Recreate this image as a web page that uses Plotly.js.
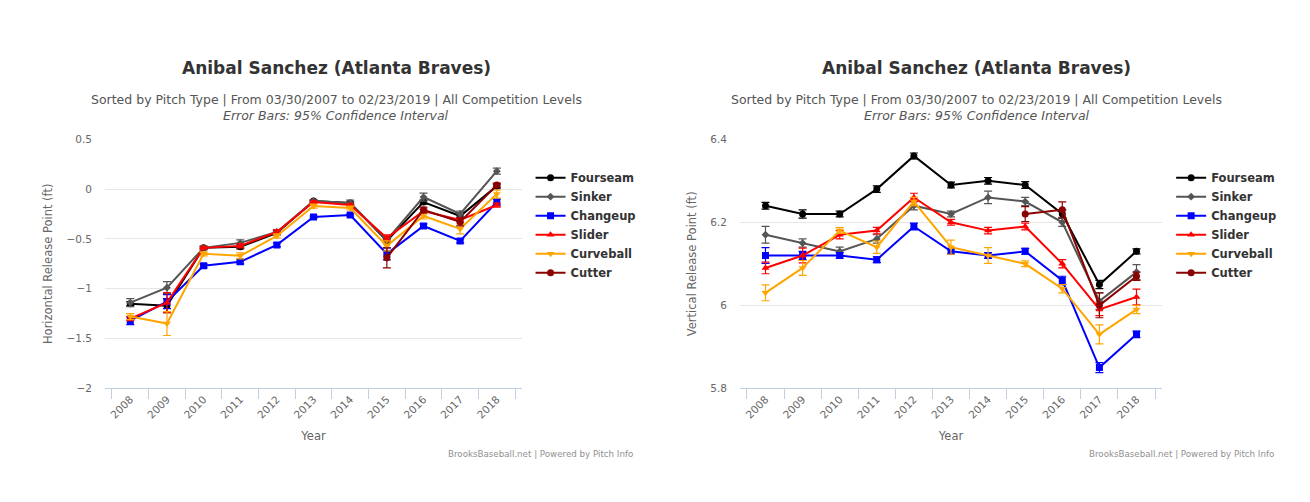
<!DOCTYPE html>
<html>
<head>
<meta charset="utf-8">
<script src="https://cdn.plot.ly/plotly-3.0.1.min.js"></script>
<style>
  html, body { margin: 0; padding: 0; background: #fff; }
  #chart { width: 1310px; height: 502px; }
</style>
</head>
<body>
<div id="chart"></div>
<script>
// years on the x axis
var years = ['2008', '2009', '2010', '2011', '2012', '2013', '2014', '2015', '2016', '2017', '2018'];

var pitchNames = ['Fourseam', 'Sinker', 'Changeup', 'Slider', 'Curveball', 'Cutter'];

// horizontal release point (ft)
var fourseamH = [-1.15, -1.17, -0.59, -0.58, -0.44, -0.12, -0.14, -0.52, -0.13, -0.27, 0.03];
var fourseamHErr = [0.02, 0.07, 0.01, 0.02, 0.02, 0.01, 0.01, 0.02, 0.02, 0.02, 0.02];
var sinkerH = [-1.14, -0.99, -0.59, -0.54, -0.43, -0.12, -0.14, -0.51, -0.08, -0.25, 0.18];
var sinkerHErr = [0.04, 0.06, 0.02, 0.03, 0.02, 0.01, 0.03, 0.02, 0.04, 0.03, 0.03];
var changeupH = [-1.32, -1.13, -0.77, -0.73, -0.56, -0.28, -0.26, -0.65, -0.37, -0.52, -0.13];
var changeupHErr = [0.04, 0.07, 0.02, 0.02, 0.02, 0.01, 0.01, 0.06, 0.02, 0.02, 0.03];
var sliderH = [-1.30, -1.14, -0.59, -0.57, -0.43, -0.13, -0.16, -0.49, -0.22, -0.31, -0.16];
var sliderHErr = [0.02, 0.10, 0.01, 0.02, 0.02, 0.01, 0.01, 0.03, 0.02, 0.02, 0.02];
var curveballH = [-1.28, -1.35, -0.65, -0.67, -0.47, -0.17, -0.19, -0.57, -0.27, -0.40, -0.05];
var curveballHErr = [0.03, 0.12, 0.02, 0.03, 0.02, 0.02, 0.02, 0.05, 0.03, 0.05, 0.04];
var cutterH = [null, null, null, null, null, null, null, -0.69, -0.21, -0.33, 0.04];
var cutterHErr = [null, null, null, null, null, null, null, 0.10, 0.03, 0.04, 0.02];

// vertical release point (ft)
var fourseamV = [6.24, 6.22, 6.22, 6.28, 6.36, 6.29, 6.30, 6.29, 6.22, 6.05, 6.13];
var fourseamVErr = [0.008, 0.01, 0.007, 0.008, 0.007, 0.007, 0.008, 0.008, 0.01, 0.01, 0.006];
var sinkerV = [6.17, 6.15, 6.13, 6.16, 6.24, 6.22, 6.26, 6.25, 6.20, 6.01, 6.08];
var sinkerVErr = [0.02, 0.01, 0.01, 0.01, 0.01, 0.007, 0.015, 0.01, 0.01, 0.02, 0.018];
var changeupV = [6.12, 6.12, 6.12, 6.11, 6.19, 6.13, 6.12, 6.13, 6.06, 5.85, 5.93];
var changeupVErr = [0.019, 0.01, 0.007, 0.007, 0.008, 0.006, 0.007, 0.007, 0.01, 0.012, 0.008];
var sliderV = [6.09, 6.12, 6.17, 6.18, 6.26, 6.20, 6.18, 6.19, 6.10, 5.99, 6.02];
var sliderVErr = [0.014, 0.018, 0.01, 0.008, 0.01, 0.007, 0.008, 0.008, 0.01, 0.015, 0.019];
var curveballV = [6.03, 6.09, 6.18, 6.14, 6.25, 6.14, 6.12, 6.10, 6.04, 5.93, 5.99];
var curveballVErr = [0.019, 0.018, 0.007, 0.015, 0.01, 0.017, 0.019, 0.007, 0.01, 0.023, 0.01];
var cutterV = [null, null, null, null, null, null, null, 6.22, 6.23, 6.00, 6.07];
var cutterVErr = [null, null, null, null, null, null, null, 0.018, 0.019, 0.03, 0.01];

var colors = ['#000000', '#555555', '#0000ff', '#ff0000', '#ffa500', '#8b0000'];
var symbols = ['circle', 'diamond', 'square', 'triangle-up', 'triangle-down', 'circle'];
var sizes = [7, 6, 7, 7, 7, 7];

var horiz = [[fourseamH, fourseamHErr], [sinkerH, sinkerHErr], [changeupH, changeupHErr],
             [sliderH, sliderHErr], [curveballH, curveballHErr], [cutterH, cutterHErr]];
var vert = [[fourseamV, fourseamVErr], [sinkerV, sinkerVErr], [changeupV, changeupVErr],
            [sliderV, sliderVErr], [curveballV, curveballVErr], [cutterV, cutterVErr]];

function makeTrace(i, vals, errs, xa, ya, leg) {
  return {
    x: years,
    y: vals,
    name: pitchNames[i],
    type: 'scatter',
    mode: 'lines+markers',
    xaxis: xa,
    yaxis: ya,
    legend: leg,
    line: { color: colors[i], width: 2 },
    marker: { color: colors[i], symbol: symbols[i], size: sizes[i] },
    error_y: { type: 'data', array: errs, visible: true, color: colors[i], thickness: 1.2, width: 4 },
    hoverinfo: 'x+y+name'
  };
}

var data = [];
for (var i = 0; i < pitchNames.length; i++) {
  data.push(makeTrace(i, horiz[i][0], horiz[i][1], 'x', 'y', 'legend'));
}
for (var j = 0; j < pitchNames.length; j++) {
  data.push(makeTrace(j, vert[j][0], vert[j][1], 'x2', 'y2', 'legend2'));
}

var font = 'DejaVu Sans, Verdana, sans-serif';
var yDom = [0.2265, 0.7225];

function xAxis(dom) {
  return {
    domain: dom,
    type: 'category',
    tickson: 'boundaries',
    ticks: 'outside',
    ticklen: 10,
    tickcolor: '#C0D0E0',
    showline: true,
    linecolor: '#C0D0E0',
    linewidth: 1,
    showgrid: false,
    zeroline: false,
    tickangle: -45,
    tickfont: { family: font, size: 10.5, color: '#666666' },
    title: { text: 'Year', font: { family: font, size: 11.5, color: '#666666' }, standoff: 12 },
    fixedrange: true
  };
}

function yAxis(dom, range, dtick, label, anchor) {
  return {
    domain: dom,
    anchor: anchor,
    range: range,
    dtick: dtick,
    showgrid: true,
    gridcolor: '#e6e6e6',
    zeroline: false,
    showline: false,
    ticks: '',
    ticklabelstandoff: 12,
    tickfont: { family: font, size: 10.5, color: '#666666' },
    title: { text: label, font: { family: font, size: 11.5, color: '#666666' }, standoff: 11 },
    fixedrange: true
  };
}

function legendAt(x) {
  return {
    x: x, y: 0.675, xanchor: 'left', yanchor: 'top',
    font: { family: font, size: 11.5, color: '#333333', weight: 'bold' },
    itemwidth: 30,
    tracegroupgap: 0,
    bgcolor: 'rgba(0,0,0,0)'
  };
}

var titleTxt = 'Anibal Sanchez (Atlanta Braves)';
var subTxt = 'Sorted by Pitch Type | From 03/30/2007 to 02/23/2019 | All Competition Levels';
var errTxt = '<i>Error Bars: 95% Confidence Interval</i>';
var creditTxt = 'BrooksBaseball.net | Powered by Pitch Info';

function heads(cx, rx) {
  return [
    { text: '<b>' + titleTxt + '</b>', x: cx, y: 1 - 68 / 502, xref: 'paper', yref: 'paper',
      xanchor: 'center', yanchor: 'middle',
      showarrow: false, font: { family: font, size: 17, color: '#333333' } },
    { text: subTxt, x: cx, y: 1 - 99 / 502, xref: 'paper', yref: 'paper',
      xanchor: 'center', yanchor: 'middle',
      showarrow: false, font: { family: font, size: 12.5, color: '#555555' } },
    { text: errTxt, x: cx, y: 1 - 115 / 502, xref: 'paper', yref: 'paper',
      xanchor: 'center', yanchor: 'middle',
      showarrow: false, font: { family: font, size: 12.5, color: '#555555' } },
    { text: creditTxt, x: rx, y: 1 - 454 / 502, xref: 'paper', yref: 'paper',
      xanchor: 'right', yanchor: 'middle',
      showarrow: false, font: { family: font, size: 8.7, color: '#909090' } }
  ];
}

var layout = {
  width: 1310,
  height: 502,
  margin: { l: 0, r: 0, t: 0, b: 0 },
  paper_bgcolor: '#ffffff',
  plot_bgcolor: '#ffffff',
  xaxis: xAxis([0.0802, 0.3985]),
  yaxis: yAxis(yDom, [-2, 0.5], 0.5, 'Horizontal Release Point (ft)', 'x'),
  xaxis2: xAxis([0.5649, 0.887]),
  yaxis2: yAxis(yDom, [5.8, 6.4], 0.2, 'Vertical Release Point (ft)', 'x2'),
  legend: legendAt(0.405),
  legend2: legendAt(0.894),
  annotations: heads(0.2565, 0.4847).concat(heads(0.7458, 0.974)),
  hovermode: 'closest'
};

Plotly.newPlot('chart', data, layout, { displayModeBar: false, responsive: false });
</script>
</body>
</html>
